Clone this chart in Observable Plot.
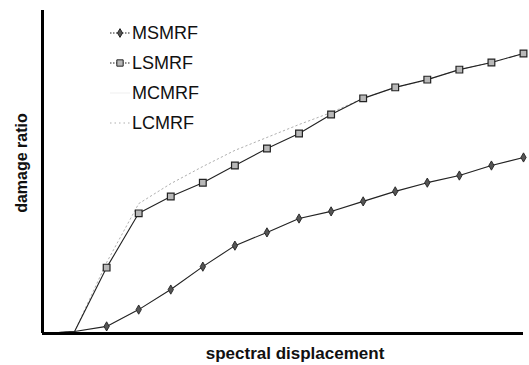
<!DOCTYPE html>
<html>
<head>
<meta charset="utf-8">
<script src="https://cdn.jsdelivr.net/npm/d3@7"></script>
<script src="https://cdn.jsdelivr.net/npm/@observablehq/plot@0.6"></script>
<style>
  html, body { margin: 0; padding: 0; background: #fff; }
  #wrap { position: relative; width: 529px; height: 365px; font-family: "Liberation Sans", Arial, sans-serif; }
  #legend { position: absolute; left: 0; top: 0; }
</style>
</head>
<body>
<div id="wrap"></div>
<script>
// spectral displacement steps (index along the x axis)
const steps = [0, 1, 2, 3, 4, 5, 6, 7, 8, 9, 10, 11, 12, 13, 14, 15];
// damage ratio series
const MSMRF = [0, 0.006, 0.022, 0.074, 0.136, 0.207, 0.272, 0.313, 0.356, 0.378, 0.409, 0.440, 0.467, 0.489, 0.520, 0.545];
const LSMRF = [0, 0.006, 0.204, 0.372, 0.424, 0.467, 0.520, 0.573, 0.619, 0.678, 0.728, 0.762, 0.786, 0.817, 0.839, 0.867];
const MCMRF = [0, 0.006, 0.022, 0.074, 0.136, 0.207, 0.270, 0.313, 0.356, 0.380, 0.409, 0.440, 0.467, 0.489, 0.520, 0.545];
const LCMRF = [0, 0.006, 0.220, 0.402, 0.464, 0.517, 0.567, 0.607, 0.647, 0.684, 0.728, 0.762, 0.786, 0.817, 0.839, 0.867];
const seriesNames = ["MSMRF", "LSMRF", "MCMRF", "LCMRF"];
const xLabel = "spectral displacement";
const yLabel = "damage ratio";

const seriesValues = {MSMRF, LSMRF, MCMRF, LCMRF};
const rows = seriesNames.flatMap(name => steps.map((s, i) => ({series: name, x: s, y: seriesValues[name][i], i})));
const of = name => rows.filter(d => d.series === name);

const font = '"Liberation Sans", Arial, sans-serif';

const chart = Plot.plot({
  width: 529,
  height: 365,
  marginLeft: 42,
  marginRight: 6,
  marginTop: 10,
  marginBottom: 32,
  style: {fontFamily: font, background: "#fff", color: "#000"},
  x: {domain: [0, 15], axis: null},
  y: {domain: [0, 1], axis: null},
  marks: [
    Plot.line(of("MCMRF"), {x: "x", y: "y", stroke: "#f2f2f2", strokeWidth: 1}),
    Plot.line(of("LCMRF"), {x: "x", y: "y", stroke: "#b0b0b0", strokeWidth: 1, strokeDasharray: "1.5,3"}),
    Plot.line(of("LSMRF"), {x: "x", y: "y", stroke: "#222", strokeWidth: 1.1}),
    Plot.line(of("MSMRF"), {x: "x", y: "y", stroke: "#222", strokeWidth: 1.1}),
    Plot.dot(of("LSMRF").filter(d => d.i >= 2), {x: "x", y: "y", symbol: "square", r: 3.8, fill: "#b8b8b8", stroke: "#222", strokeWidth: 1.2}),
    Plot.dot(of("MSMRF").filter(d => d.i >= 2), {x: "x", y: "y", symbol: "diamond", r: 2.8, fill: "#555", stroke: "#222", strokeWidth: 0.9}),
    Plot.ruleX([0], {stroke: "#000", strokeWidth: 3}),
    Plot.ruleY([0], {stroke: "#000", strokeWidth: 3}),
    Plot.text([xLabel], {frameAnchor: "bottom", textAnchor: "middle", lineAnchor: "middle", dx: 12, dy: 20, fontSize: 17, fontWeight: "bold", fill: "#111"}),
    Plot.text([yLabel], {frameAnchor: "left", textAnchor: "middle", lineAnchor: "middle", rotate: -90, dx: -21, dy: -9, fontSize: 16, fontWeight: "bold", fill: "#111"})
  ]
});
document.getElementById("wrap").appendChild(chart);

// legend overlay
const legendStyles = {
  MSMRF: {stroke: "#222", dash: "1.5,1.5", symbol: d3.symbolDiamond, size: 22, fill: "#555"},
  LSMRF: {stroke: "#222", dash: "1.5,1.5", symbol: d3.symbolSquare, size: 40, fill: "#b8b8b8"},
  MCMRF: {stroke: "#f2f2f2", dash: null, symbol: null},
  LCMRF: {stroke: "#b0b0b0", dash: "1.5,3", symbol: null}
};
const leg = d3.select("#wrap").append("svg")
  .attr("id", "legend").attr("width", 529).attr("height", 365)
  .style("pointer-events", "none");
seriesNames.forEach((name, k) => {
  const cy = 33 + k * 30;
  const st = legendStyles[name];
  const g = leg.append("g");
  g.append("line").attr("x1", 110).attr("x2", 130).attr("y1", cy).attr("y2", cy)
    .attr("stroke", st.stroke).attr("stroke-width", 1.2).attr("stroke-dasharray", st.dash);
  if (st.symbol) {
    g.append("path").attr("d", d3.symbol(st.symbol, st.size)())
      .attr("transform", `translate(120,${cy})`)
      .attr("fill", st.fill).attr("stroke", "#222").attr("stroke-width", 1);
  }
  g.append("text").attr("x", 132).attr("y", cy).attr("dy", "0.36em")
    .attr("font-family", font).attr("font-size", 18).attr("fill", "#111").text(name);
});
</script>
</body>
</html>
